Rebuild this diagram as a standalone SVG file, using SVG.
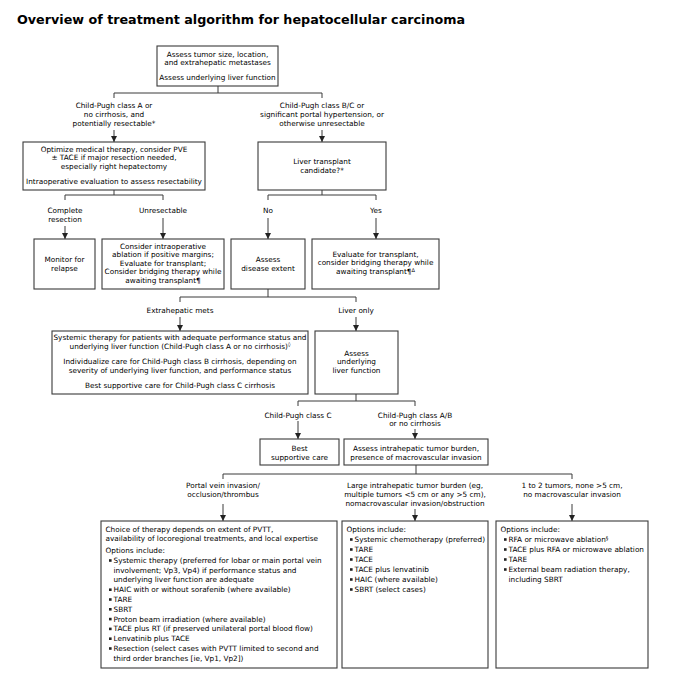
<svg xmlns="http://www.w3.org/2000/svg" width="679" height="680" viewBox="0 0 679 680">
<defs>
<style>
text{font-family:"DejaVu Sans",Verdana,sans-serif;font-size:7.3px;fill:#000}
.c{text-anchor:middle}
.t{font-family:"DejaVu Sans",Verdana,sans-serif;font-weight:bold;font-size:13px}
.box{fill:#fff;stroke:#3a3a3a;stroke-width:1.1}
.ln{fill:none;stroke:#3a3a3a;stroke-width:1}
.ar{fill:none;stroke:#3a3a3a;stroke-width:1;marker-end:url(#ah)}
.b{fill:#222}
.sup{font-size:5px}
</style>
<marker id="ah" markerWidth="6" markerHeight="7" refX="6" refY="3" orient="auto" markerUnits="userSpaceOnUse">
<path d="M0,0 L6,3 L0,6 z" fill="#222"/>
</marker>
</defs>
<rect width="679" height="680" fill="#fff"/>
<text class="t" x="17" y="24" textLength="448" lengthAdjust="spacingAndGlyphs">Overview of treatment algorithm for hepatocellular carcinoma</text>

<g id="connectors">
<path class="ln" d="M218,86 V93 M114,98 V93 H322 V98"/>
<path class="ar" d="M114,130 V142"/>
<path class="ar" d="M322,130 V142"/>
<path class="ln" d="M114,190 V195 M65,200 V195 H163 V200"/>
<path class="ar" d="M65,226 V239"/>
<path class="ar" d="M163,218 V239"/>
<path class="ln" d="M322,190 V195 M268,200 V195 H376 V200"/>
<path class="ar" d="M268,218 V239"/>
<path class="ar" d="M376,218 V239"/>
<path class="ln" d="M268,289 V297 M180,302 V297 H356 V302"/>
<path class="ar" d="M180,317 V331"/>
<path class="ar" d="M356,317 V331"/>
<path class="ln" d="M356,394 V401 M298,406 V401 H415 V406"/>
<path class="ar" d="M298,421 V439"/>
<path class="ar" d="M415,429 V439"/>
<path class="ln" d="M416,465 V474 M223,479 V474 H572 V479"/>
<path class="ar" d="M223,504 V521"/>
<path class="ar" d="M415,509 V521"/>
<path class="ar" d="M572,504 V521"/>
</g>

<g id="labels">
<text class="c" x="114" y="108">Child-Pugh class A or</text>
<text class="c" x="114" y="117">no cirrhosis, and</text>
<text class="c" x="114" y="125.5">potentially resectable*</text>
<text class="c" x="322" y="108">Child-Pugh class B/C or</text>
<text class="c" x="322" y="117">significant portal hypertension, or</text>
<text class="c" x="322" y="125.5">otherwise unresectable</text>
<text class="c" x="65" y="212.5">Complete</text>
<text class="c" x="65" y="221.5">resection</text>
<text class="c" x="163" y="212.5">Unresectable</text>
<text class="c" x="268" y="212.5">No</text>
<text class="c" x="376" y="212.5">Yes</text>
<text class="c" x="180" y="312.5">Extrahepatic mets</text>
<text class="c" x="356" y="312.5">Liver only</text>
<text class="c" x="298" y="417.5">Child-Pugh class C</text>
<text class="c" x="415" y="417.5">Child-Pugh class A/B</text>
<text class="c" x="415" y="426">or no cirrhosis</text>
<text class="c" x="223" y="488">Portal vein invasion/</text>
<text class="c" x="223" y="497">occlusion/thrombus</text>
<text class="c" x="415" y="488">Large intrahepatic tumor burden (eg,</text>
<text class="c" x="415" y="497">multiple tumors &lt;5 cm or any &gt;5 cm),</text>
<text class="c" x="415" y="505.5">nomacrovascular invasion/obstruction</text>
<text class="c" x="572" y="488">1 to 2 tumors, none &gt;5 cm,</text>
<text class="c" x="572" y="497">no macrovascular invasion</text>
</g>

<g id="n1">
<rect class="box" x="157" y="46" width="121" height="40"/>
<text class="c" x="217.5" y="57">Assess tumor size, location,</text>
<text class="c" x="217.5" y="65.3">and extrahepatic metastases</text>
<text class="c" x="217.5" y="80">Assess underlying liver function</text>
</g>
<g id="n2">
<rect class="box" x="23" y="142" width="182" height="48"/>
<text class="c" x="114" y="151.5">Optimize medical therapy, consider PVE</text>
<text class="c" x="114" y="160.2">± TACE if major resection needed,</text>
<text class="c" x="114" y="169">especially right hepatectomy</text>
<text class="c" x="114" y="184">Intraoperative evaluation to assess resectability</text>
</g>
<g id="n3">
<rect class="box" x="258" y="142" width="128" height="48"/>
<text class="c" x="322" y="164">Liver transplant</text>
<text class="c" x="322" y="173">candidate?*</text>
</g>
<g id="n4">
<rect class="box" x="34" y="239" width="61" height="50"/>
<text class="c" x="64.5" y="262">Monitor for</text>
<text class="c" x="64.5" y="271">relapse</text>
</g>
<g id="n5">
<rect class="box" x="102" y="239" width="122" height="50"/>
<text class="c" x="163" y="248.5">Consider intraoperative</text>
<text class="c" x="163" y="257">ablation if positive margins;</text>
<text class="c" x="163" y="265.5">Evaluate for transplant;</text>
<text class="c" x="163" y="274">Consider bridging therapy while</text>
<text class="c" x="163" y="282.5">awaiting transplant¶</text>
</g>
<g id="n6">
<rect class="box" x="231" y="239" width="74" height="50"/>
<text class="c" x="268" y="262">Assess</text>
<text class="c" x="268" y="271">disease extent</text>
</g>
<g id="n7">
<rect class="box" x="312" y="239" width="127" height="50"/>
<text class="c" x="375.5" y="256.5">Evaluate for transplant,</text>
<text class="c" x="375.5" y="265">consider bridging therapy while</text>
<text class="c" x="375.5" y="273.5">awaiting transplant¶<tspan class="sup" dy="-1.5">Δ</tspan></text>
</g>
<g id="n8">
<rect class="box" x="52" y="331" width="256" height="63"/>
<text class="c" x="180" y="340">Systemic therapy for patients with adequate performance status and</text>
<text class="c" x="180" y="348.5">underlying liver function (Child-Pugh class A or no cirrhosis)<tspan class="sup" dy="-2.5">◊</tspan></text>
<text class="c" x="180" y="364">Individualize care for Child-Pugh class B cirrhosis, depending on</text>
<text class="c" x="180" y="372.5">severity of underlying liver function, and performance status</text>
<text class="c" x="180" y="387.5">Best supportive care for Child-Pugh class C cirrhosis</text>
</g>
<g id="n9">
<rect class="box" x="315" y="331" width="83" height="63"/>
<text class="c" x="356.5" y="355.5">Assess</text>
<text class="c" x="356.5" y="364">underlying</text>
<text class="c" x="356.5" y="372.5">liver function</text>
</g>
<g id="n10">
<rect class="box" x="260" y="439" width="79" height="26"/>
<text class="c" x="299.5" y="451">Best</text>
<text class="c" x="299.5" y="460">supportive care</text>
</g>
<g id="n11">
<rect class="box" x="344" y="439" width="144" height="26"/>
<text class="c" x="416" y="451">Assess intrahepatic tumor burden,</text>
<text class="c" x="416" y="460">presence of macrovascular invasion</text>
</g>
<g id="n12">
<rect class="box" x="101" y="521" width="236" height="147"/>
<text x="105.5" y="532">Choice of therapy depends on extent of PVTT,</text>
<text x="105.5" y="541">availability of locoregional treatments, and local expertise</text>
<text x="105.5" y="553">Options include:</text>
<rect class="b" x="109" y="559.2" width="2.6" height="2.6"/>
<text x="113.5" y="563">Systemic therapy (preferred for lobar or main portal vein</text>
<text x="113.5" y="572.7">involvement; Vp3, Vp4) if performance status and</text>
<text x="113.5" y="582.4">underlying liver function are adequate</text>
<rect class="b" x="109" y="588.4" width="2.6" height="2.6"/>
<text x="113.5" y="592.2">HAIC with or without sorafenib (where available)</text>
<rect class="b" x="109" y="598.2" width="2.6" height="2.6"/>
<text x="113.5" y="602">TARE</text>
<rect class="b" x="109" y="608" width="2.6" height="2.6"/>
<text x="113.5" y="611.8">SBRT</text>
<rect class="b" x="109" y="617.8" width="2.6" height="2.6"/>
<text x="113.5" y="621.6">Proton beam irradiation (where available)</text>
<rect class="b" x="109" y="627.6" width="2.6" height="2.6"/>
<text x="113.5" y="631.4">TACE plus RT (if preserved unilateral portal blood flow)</text>
<rect class="b" x="109" y="637.4" width="2.6" height="2.6"/>
<text x="113.5" y="641.2">Lenvatinib plus TACE</text>
<rect class="b" x="109" y="647.2" width="2.6" height="2.6"/>
<text x="113.5" y="651">Resection (select cases with PVTT limited to second and</text>
<text x="113.5" y="660.8">third order branches [ie, Vp1, Vp2])</text>
</g>
<g id="n13">
<rect class="box" x="342" y="521" width="146" height="147"/>
<text x="346.5" y="532">Options include:</text>
<rect class="b" x="350" y="538.2" width="2.6" height="2.6"/>
<text x="354.5" y="542">Systemic chemotherapy (preferred)</text>
<rect class="b" x="350" y="548.2" width="2.6" height="2.6"/>
<text x="354.5" y="552">TARE</text>
<rect class="b" x="350" y="558.2" width="2.6" height="2.6"/>
<text x="354.5" y="562">TACE</text>
<rect class="b" x="350" y="568.2" width="2.6" height="2.6"/>
<text x="354.5" y="572">TACE plus lenvatinib</text>
<rect class="b" x="350" y="578.2" width="2.6" height="2.6"/>
<text x="354.5" y="582">HAIC (where available)</text>
<rect class="b" x="350" y="588.2" width="2.6" height="2.6"/>
<text x="354.5" y="592">SBRT (select cases)</text>
</g>
<g id="n14">
<rect class="box" x="496" y="521" width="152" height="147"/>
<text x="500.5" y="532">Options include:</text>
<rect class="b" x="504" y="538.2" width="2.6" height="2.6"/>
<text x="508.5" y="542">RFA or microwave ablation<tspan class="sup" dy="-2.5">§</tspan></text>
<rect class="b" x="504" y="548.2" width="2.6" height="2.6"/>
<text x="508.5" y="552">TACE plus RFA or microwave ablation</text>
<rect class="b" x="504" y="558.2" width="2.6" height="2.6"/>
<text x="508.5" y="562">TARE</text>
<rect class="b" x="504" y="568.2" width="2.6" height="2.6"/>
<text x="508.5" y="572">External beam radiation therapy,</text>
<text x="508.5" y="581.5">including SBRT</text>
</g>
</svg>
